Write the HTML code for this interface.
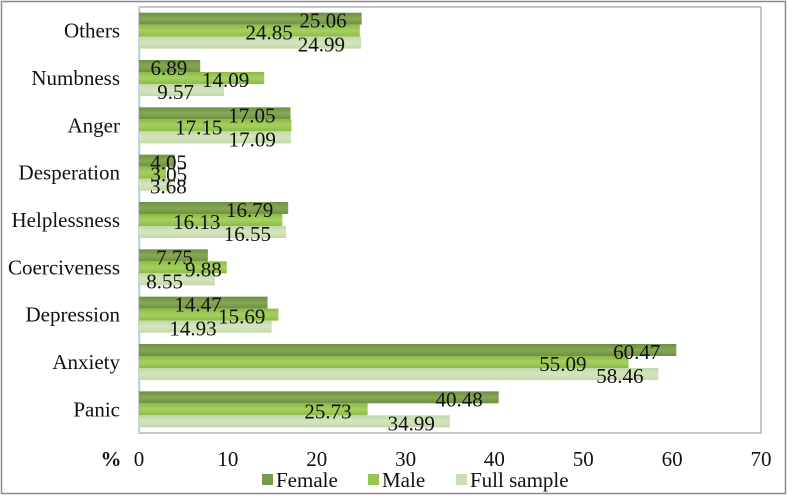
<!DOCTYPE html>
<html><head><meta charset="utf-8"><style>
body{margin:0;background:#fff}
svg text{font-family:"Liberation Serif",serif;fill:#111}
</style></head><body>
<svg id="chart" width="787" height="496" viewBox="0 0 787 496" xmlns="http://www.w3.org/2000/svg">
<defs>
<linearGradient id="gF" x1="0" y1="0" x2="0" y2="1"><stop offset="0" stop-color="#6f8f42"/><stop offset="0.5" stop-color="#86a855"/><stop offset="1" stop-color="#6f8f42"/></linearGradient>
<linearGradient id="gM" x1="0" y1="0" x2="0" y2="1"><stop offset="0" stop-color="#8cbb45"/><stop offset="0.5" stop-color="#a6d060"/><stop offset="1" stop-color="#8cbb45"/></linearGradient>
<linearGradient id="gA" x1="0" y1="0" x2="0" y2="1"><stop offset="0" stop-color="#c3d9a8"/><stop offset="0.5" stop-color="#d5e5c0"/><stop offset="1" stop-color="#c3d9a8"/></linearGradient>
</defs>
<rect x="1.5" y="1.5" width="784" height="492" fill="#fff" stroke="#8a8a8a" stroke-width="1.5"/>
<rect x="139" y="7" width="622" height="426" fill="#fff" stroke="#a0a0a0" stroke-width="1.2"/>
<line x1="139.5" y1="7" x2="139.5" y2="433" stroke="#b8cde0" stroke-width="1.5"/>
<g id="bars"></g>
<g id="labels"></g>
<g id="axis"></g>
<text x="111" y="466" font-size="21" font-weight="bold" text-anchor="middle">%</text>
<g id="legend"></g>
</svg>
<script>
const categories = ["Panic","Anxiety","Depression","Coerciveness","Helplessness","Desperation","Anger","Numbness","Others"];
const female = [40.48,60.47,14.47,7.75,16.79,4.05,17.05,6.89,25.06];
const male = [25.73,55.09,15.69,9.88,16.13,3.05,17.15,14.09,24.85];
const full = [34.99,58.46,14.93,8.55,16.55,3.68,17.09,9.57,24.99];
const tickValues = [0,10,20,30,40,50,60,70];
const femaleLabelShift = [-16,-16,-46,-15,-15,12,-15,-13,-15];
const maleLabelShift = [-16,-42,-13,-5,-62,21,-69,-15,-67];
const fullLabelShift = [-15,-15,-55,-32,-15,15,-15,-30,-16];

const NS="http://www.w3.org/2000/svg";
const x0=139, pxPerUnit=622/70, plotTop=7, plotBottom=433;
const band=(plotBottom-plotTop)/categories.length;
const barH=12;
const FS=21;
function xs(v){return x0+v*pxPerUnit;}
function bandTop(i){return plotTop+(categories.length-1-i)*band+(band-3*barH)/2;}
const series=[{name:"Female",vals:female,shift:femaleLabelShift,fill:"url(#gF)",sw:"#7a9a4a"},{name:"Male",vals:male,shift:maleLabelShift,fill:"url(#gM)",sw:"#98c452"},{name:"Full sample",vals:full,shift:fullLabelShift,fill:"url(#gA)",sw:"#cadfb2"}];
const gB=document.getElementById('bars'), gL=document.getElementById('labels'), gA=document.getElementById('axis'), gG=document.getElementById('legend');
function mk(t,a){const e=document.createElementNS(NS,t);for(const k in a)e.setAttribute(k,a[k]);return e;}
categories.forEach((c,i)=>{
  const t=mk('text',{x:120,y:bandTop(i)+barH*1.5+7,'font-size':FS,'text-anchor':'end'});
  
  
  t.textContent=c;gA.appendChild(t);
  series.forEach((s,j)=>{
    const y=bandTop(i)+j*barH;
    const r=mk('rect',{x:x0,y:y,width:xs(s.vals[i])-x0,height:barH,fill:s.fill});
    
    
    gB.appendChild(r);
    const txt=s.vals[i].toFixed(2);
    const end=xs(s.vals[i])+s.shift[i];
    const l=mk('text',{x:end,y:y+barH/2+9,'font-size':FS,'text-anchor':'end'});
    
    
    l.textContent=txt;gL.appendChild(l);
  });
});
tickValues.forEach(v=>{
  const t=mk('text',{x:xs(v),y:466,'font-size':FS,'text-anchor':'middle'});
  
  
  t.textContent=v;gA.appendChild(t);
});
const legX=[262,368,456];
series.forEach((s,j)=>{
  const sq=mk('rect',{x:legX[j],y:474,width:11,height:11,fill:s.sw});
  
  
  gG.appendChild(sq);
  const t=mk('text',{x:legX[j]+14,y:487,'font-size':FS});
  
  
  t.textContent=s.name;gG.appendChild(t);
});
</script>
</body></html>
